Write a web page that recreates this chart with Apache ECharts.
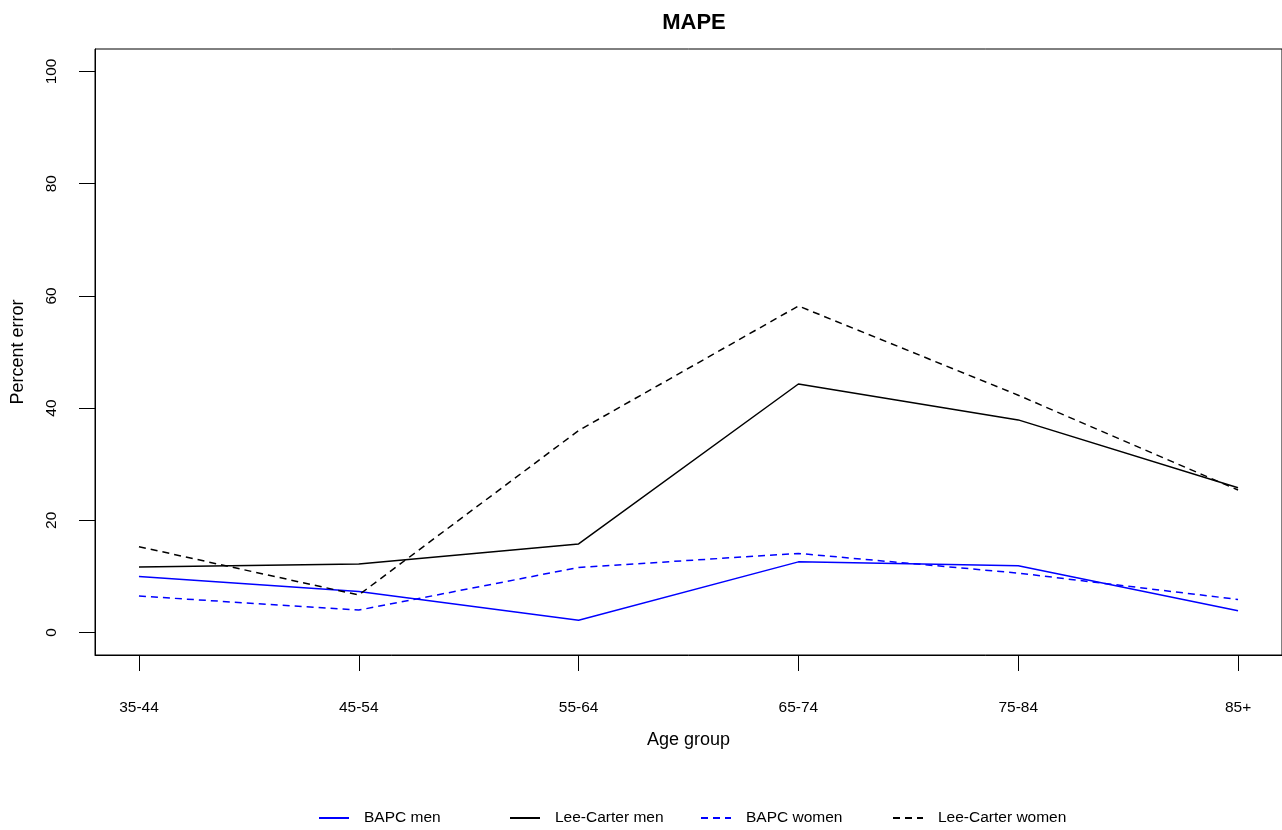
<!DOCTYPE html>
<html>
<head>
<meta charset="utf-8">
<title>MAPE</title>
<script src="https://cdn.jsdelivr.net/npm/echarts@6/dist/echarts.min.js"></script>
<style>
  html, body { margin: 0; padding: 0; background: #fff; }
  #chart { width: 1282px; height: 830px; }
</style>
</head>
<body>
<div id="chart"></div>
<script>
// age groups on the x axis
const ageGroups = ['35-44', '45-54', '55-64', '65-74', '75-84', '85+']
const yTicks = [0, 20, 40, 60, 80, 100]

// percent error per age group
const bapcMen = [10.0, 7.3, 2.2, 12.6, 11.9, 3.9]
const leeCarterMen = [11.7, 12.2, 15.8, 44.3, 37.9, 25.8]
const bapcWomen = [6.5, 4.0, 11.6, 14.1, 10.6, 5.9]
const leeCarterWomen = [15.3, 6.7, 36.0, 58.2, 42.3, 25.4]

const font = '"Liberation Sans", Arial, sans-serif'
const xTicks = ageGroups.map((_, i) => i + 1)
const toPoints = arr => arr.map((v, i) => [i + 1, v])

// one line series
const makeSeries = (name, values, color, dashed) => ({
  name,
  type: 'line',
  data: toPoints(values),
  symbol: 'none',
  showSymbol: false,
  silent: true,
  animation: false,
  lineStyle: { color, width: 1.5, type: dashed ? [7, 5] : 'solid' },
  itemStyle: { color }
})

// legend entries sit in equal columns, like R's legend
const legendLefts = [318, 509, 700, 892]
const legendNames = ['BAPC men', 'Lee-Carter men', 'BAPC women', 'Lee-Carter women']

const chart = echarts.init(document.getElementById('chart'))

const option = {
  backgroundColor: '#fff',
  animation: false,
  title: {
    text: 'MAPE',
    left: 689,
    textAlign: 'center',
    top: 7,
    textStyle: { fontFamily: font, fontSize: 22, fontWeight: 'bold', color: '#000' }
  },
  legend: legendNames.map((name, i) => ({
    data: [name],
    left: legendLefts[i],
    top: 810,
    padding: 0,
    itemWidth: 30,
    itemHeight: 14,
    selectedMode: false,
    itemStyle: { opacity: 0 },
    textStyle: { fontFamily: font, fontSize: 15.5, color: '#000', padding: [0, 0, 0, 10] }
  })),
  grid: {
    left: 95, top: 49, right: -1, bottom: 175,
    show: true, borderColor: '#000', borderWidth: 1,
    containLabel: false
  },
  xAxis: {
    type: 'value',
    min: 0.8,
    max: 6.2,
    name: 'Age group',
    nameLocation: 'middle',
    nameGap: 76,
    nameTextStyle: { fontFamily: font, fontSize: 18, color: '#000' },
    axisLine: { show: true, onZero: false, lineStyle: { color: '#000', width: 1 } },
    axisTick: { show: true, length: 16, customValues: xTicks, lineStyle: { color: '#000', width: 1 } },
    axisLabel: {
      customValues: xTicks,
      margin: 45,
      fontFamily: font, fontSize: 15.5, color: '#000',
      formatter: v => ageGroups[Math.round(v) - 1] || ''
    },
    splitLine: { show: false }
  },
  yAxis: {
    type: 'value',
    min: -4,
    max: 104,
    name: 'Percent error',
    nameLocation: 'middle',
    nameGap: 68,
    nameRotate: 90,
    nameTextStyle: { fontFamily: font, fontSize: 18, color: '#000' },
    axisLine: { show: true, onZero: false, lineStyle: { color: '#000', width: 1 } },
    axisTick: { show: true, length: 16, customValues: yTicks, lineStyle: { color: '#000', width: 1 } },
    axisLabel: {
      customValues: yTicks,
      rotate: 90,
      margin: 35,
      fontFamily: font, fontSize: 15.5, color: '#000'
    },
    splitLine: { show: false }
  },
  series: [
    makeSeries('BAPC men', bapcMen, '#0000ff', false),
    makeSeries('Lee-Carter men', leeCarterMen, '#000000', false),
    makeSeries('BAPC women', bapcWomen, '#0000ff', true),
    makeSeries('Lee-Carter women', leeCarterWomen, '#000000', true)
  ]
}

chart.setOption(option)
</script>
</body>
</html>
